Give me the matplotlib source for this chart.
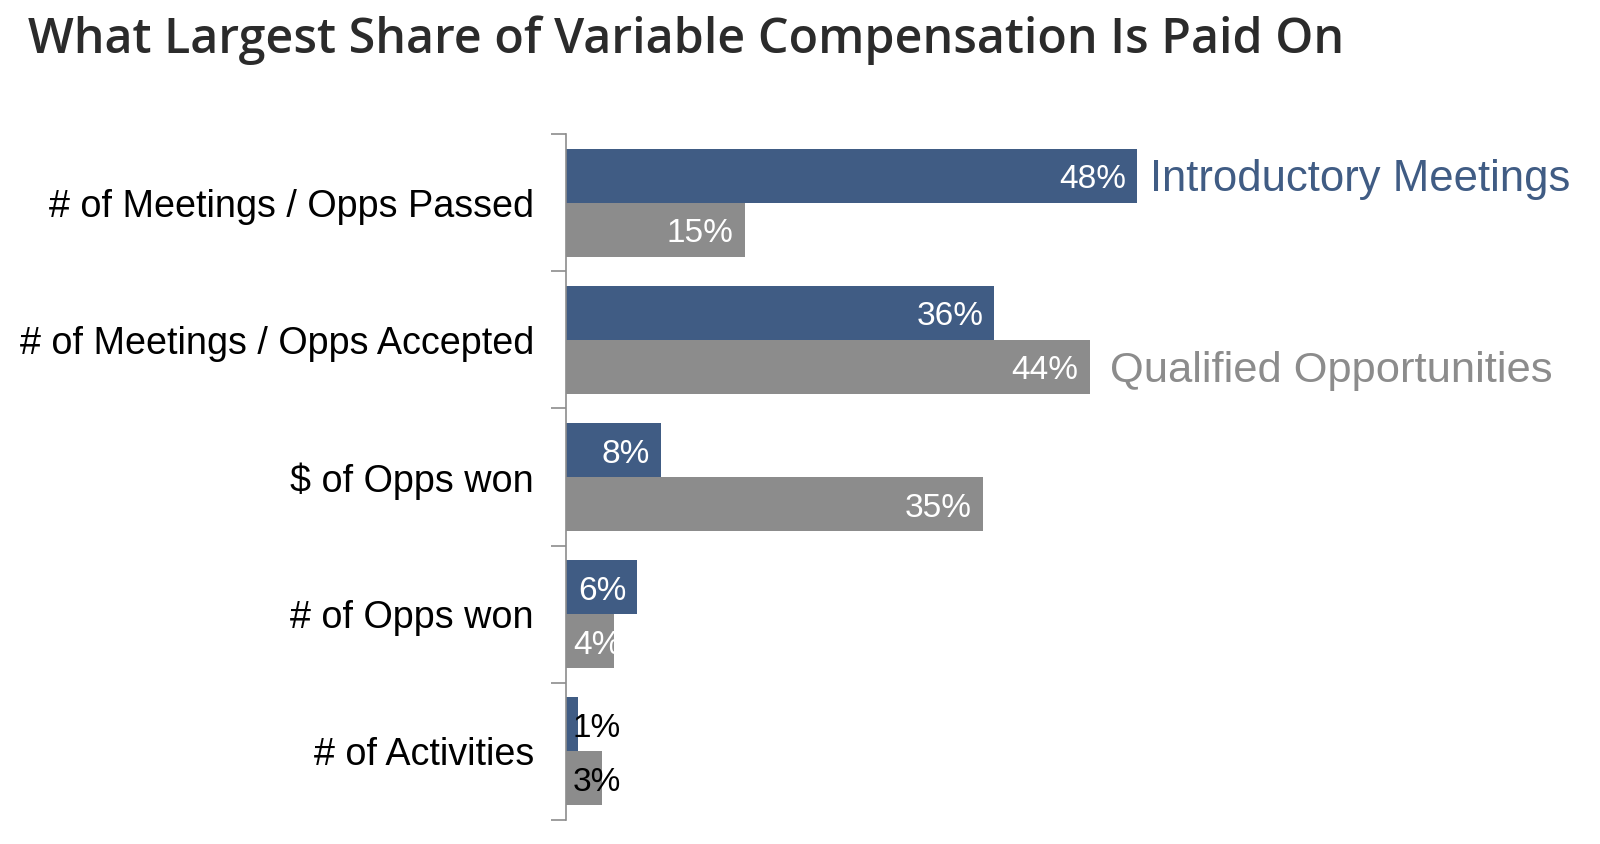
import matplotlib
matplotlib.use("Agg")
import matplotlib.pyplot as plt
from matplotlib import font_manager

categories = ["# of Meetings / Opps Passed", "# of Meetings / Opps Accepted",
              "$ of Opps won", "# of Opps won", "# of Activities"]
intro_meetings = [48, 36, 8, 6, 1]
qualified_opps = [15, 44, 35, 4, 3]
series_names = ["Introductory Meetings", "Qualified Opportunities"]
title_text = "What Largest Share of Variable Compensation Is Paid On"


def pick(*names):
    for n in names:
        try:
            font_manager.findfont(font_manager.FontProperties(family=n), fallback_to_default=False)
            return n
        except Exception:
            continue
    return "DejaVu Sans"


ARIAL = pick("Liberation Sans", "Arial", "DejaVu Sans")
NARROW = pick("Liberation Sans Narrow", "Arial Narrow", "Liberation Sans")
TITLE = pick("Open Sans", "Noto Sans", "Lato")

BLUE = "#405C84"
GRAY = "#8C8C8C"

W, H = 1600, 844
fig = plt.figure(figsize=(W / 100, H / 100), dpi=100)
ax_left, ax_top, ax_bottom = 566, 134, 820
px_per_pct = 11.9
xmax = 80
ax = fig.add_axes([ax_left / W, 1 - ax_bottom / H, xmax * px_per_pct / W, (ax_bottom - ax_top) / H])

n = len(categories)
ys = list(range(n))
bh = 0.394
ax.barh([y - bh / 2 for y in ys], intro_meetings, height=bh, color=BLUE, linewidth=0)
ax.barh([y + bh / 2 for y in ys], qualified_opps, height=bh, color=GRAY, linewidth=0)

ax.set_xlim(0, xmax)
ax.set_ylim(n - 0.5, -0.5)

for s in ["top", "right", "bottom"]:
    ax.spines[s].set_visible(False)
ax.spines["left"].set_color("#8C8C8C")
ax.spines["left"].set_linewidth(1.2)
ax.set_xticks([])

ax.set_yticks([i - 0.5 for i in range(n + 1)])
ax.set_yticklabels([])
ax.tick_params(axis="y", which="major", length=11, width=1.2, color="#8C8C8C", direction="out")
ax.set_yticks(ys, minor=True)
ax.set_yticklabels(categories, minor=True, fontsize=27.2, fontfamily=ARIAL, color="black")
ax.tick_params(axis="y", which="minor", length=0, pad=23)

# value labels
for vals, offset in ((intro_meetings, -bh / 2), (qualified_opps, bh / 2)):
    for y, v in zip(ys, vals):
        txt = f"{v}%"
        if v * px_per_pct > 65:
            ax.annotate(txt, (v, y + offset), xytext=(-8, -3), textcoords="offset points",
                        ha="right", va="center", fontsize=24, fontfamily=ARIAL, color="white")
        else:
            col = "white" if v >= 4 else "black"
            ax.annotate(txt, (0, y + offset), xytext=(5, -3), textcoords="offset points",
                        ha="left", va="center", fontsize=24, fontfamily=ARIAL, color=col)

# series labels
s1 = ax.annotate(series_names[0], (intro_meetings[0], 0 - bh / 2), xytext=(9, -3), textcoords="offset points",
                 ha="left", va="center", fontsize=37, fontfamily=NARROW, color=BLUE)
s2 = ax.annotate(series_names[1], (qualified_opps[1], 1 + bh / 2), xytext=(15, -3), textcoords="offset points",
                 ha="left", va="center", fontsize=37, fontfamily=NARROW, color=GRAY)

# title
t = fig.text(28 / W, 1 - 53 / H, title_text, fontsize=40, fontfamily=TITLE, fontweight="semibold",
             color="#2B2B2B", ha="left", va="baseline")

# shrink wide texts to the widths they take in the reference
fig.canvas.draw()
for obj, target in ((t, 1312), (s1, 419), (s2, 442)):
    w = obj.get_window_extent().width
    if w > target:
        obj.set_fontsize(obj.get_fontsize() * target / w)

fig.savefig("out.png", dpi=100)
